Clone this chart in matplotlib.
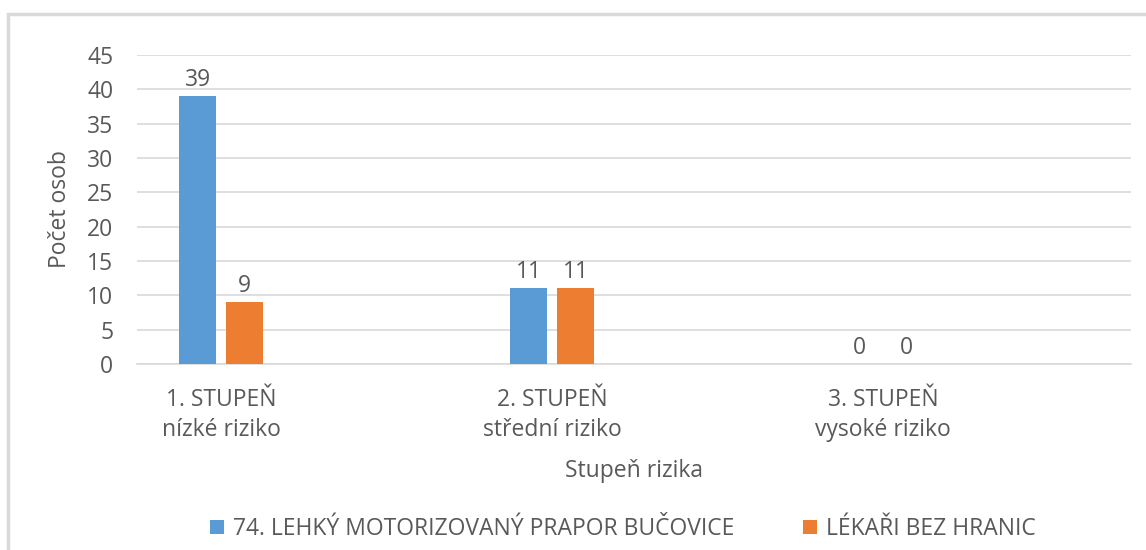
import matplotlib
matplotlib.use("Agg")
import matplotlib.pyplot as plt
from matplotlib.patches import Rectangle
import numpy as np

categories = ["1. STUPEŇ\nnízké riziko", "2. STUPEŇ\nstřední riziko", "3. STUPEŇ\nvysoké riziko"]
series_names = ["74. LEHKÝ MOTORIZOVANÝ PRAPOR BUČOVICE", "LÉKAŘI BEZ HRANIC"]
values_a = [39, 11, 0]
values_b = [9, 11, 0]
yticks = [0, 5, 10, 15, 20, 25, 30, 35, 40, 45]

plt.rcParams['font.family'] = ['Open Sans', 'DejaVu Sans']
txt = '#595959'
fs = 16.5
W, H = 1146, 550
fig = plt.figure(figsize=(W/100, H/100), dpi=100)
fig.patches.append(Rectangle((7.5/W, -0.1), 1.2, 1 - 13.5/H + 0.1, transform=fig.transFigure,
                             fill=False, edgecolor='#D9D9D9', linewidth=2.5))
ax = fig.add_axes([137/W, 1 - 364/H, (1131-137)/W, (364-55)/H])
x = np.arange(len(categories))
bw = 0.11
off = 0.071
b1 = ax.bar(x - off, values_a, bw, color='#5B9BD5', label=series_names[0], zorder=3)
b2 = ax.bar(x + off, values_b, bw, color='#ED7D31', label=series_names[1], zorder=3)
for bars in (b1, b2):
    ax.bar_label(bars, padding=3, fontsize=fs, color=txt)
ax.set_xlim(-0.254, 2.749)
ax.set_ylim(0, 45)
ax.set_yticks(yticks)
ax.yaxis.grid(True, color='#D9D9D9', linewidth=1.2, zorder=0)
ax.set_axisbelow(True)
for s in ['top', 'right', 'left']:
    ax.spines[s].set_visible(False)
ax.spines['bottom'].set_color('#D9D9D9')
ax.spines['bottom'].set_linewidth(1.2)
ax.tick_params(axis='both', length=0, labelsize=fs, colors=txt)
ax.tick_params(axis='y', pad=17)
ax.tick_params(axis='x', pad=17)
ax.set_xticks(x)
ax.set_xticklabels(categories, linespacing=1.38)
ax.set_ylabel("Počet osob", fontsize=fs, color=txt, labelpad=11)
ax.set_xlabel("Stupeň rizika", fontsize=fs, color=txt, labelpad=12)
fig.legend(handles=[b1, b2], labels=series_names, loc='center', bbox_to_anchor=(623/W, 1 - 529/H),
           ncol=2, frameon=False, fontsize=fs, labelcolor=txt, handlelength=0.6, handleheight=0.6,
           columnspacing=3.0, handletextpad=0.4)
fig.savefig("out.png", dpi=100)
